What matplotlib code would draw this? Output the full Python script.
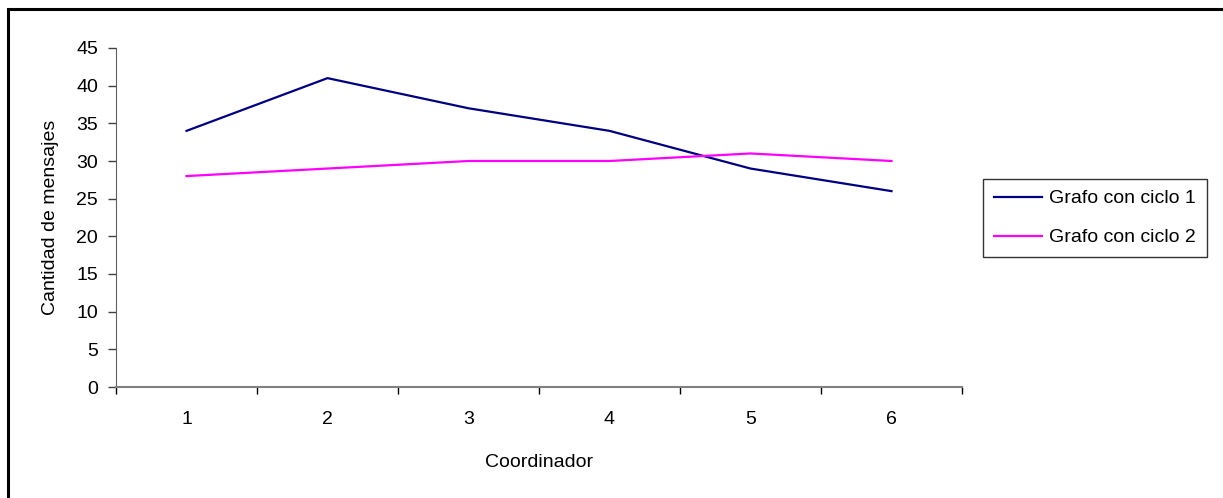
import matplotlib
matplotlib.use("Agg")
import matplotlib.pyplot as plt
import matplotlib.patches as mpatches

# =============================================================================
# DATA
# =============================================================================
coordinadores = [1, 2, 3, 4, 5, 6]
ciclo_1 = [34, 41, 37, 34, 29, 26]
ciclo_2 = [28, 29, 30, 30, 31, 30]
y_ticks = [0, 5, 10, 15, 20, 25, 30, 35, 40, 45]

# =============================================================================
# PLOT
# =============================================================================
plt.rcParams["font.family"] = ["Liberation Sans", "DejaVu Sans"]
FS = 14

fig = plt.figure(figsize=(12.23, 4.98), dpi=100, facecolor="white")
ax = fig.add_axes([116 / 1223, 1 - 387 / 498, 846 / 1223, 339 / 498])

ax.plot(coordinadores, ciclo_1, color="#000080", linewidth=1.6, label="Grafo con ciclo 1")
ax.plot(coordinadores, ciclo_2, color="#FF00FF", linewidth=1.6, label="Grafo con ciclo 2")

# --- Axes & labels ---
ax.set_xlim(0.5, len(coordinadores) + 0.5)
ax.set_ylim(0, 45)
ax.set_yticks(y_ticks)
ax.set_yticklabels([str(v) for v in y_ticks], fontsize=FS)

# category labels centred, tick marks between categories
ax.set_xticks(coordinadores)
ax.set_xticklabels([str(c) for c in coordinadores], fontsize=FS)
ax.set_xticks([c - 0.5 for c in coordinadores] + [coordinadores[-1] + 0.5], minor=True)
ax.tick_params(axis="x", which="major", length=0, pad=17)
ax.tick_params(axis="x", which="minor", length=5, width=1, color="#000000", direction="out")
ax.tick_params(axis="y", length=6, width=1, color="#404040", direction="out", pad=7)

ax.set_xlabel("Coordinador", fontsize=FS, labelpad=19)
ax.set_ylabel("Cantidad de mensajes", fontsize=FS, labelpad=12)

for spine in ["top", "right"]:
    ax.spines[spine].set_visible(False)
ax.spines["left"].set_color("#606060")
ax.spines["bottom"].set_color("#808080")
ax.spines["bottom"].set_linewidth(1.5)

leg = fig.legend(loc="upper left", bbox_to_anchor=(983 / 1223, 1 - 179 / 498),
                 borderaxespad=0, fontsize=FS, frameon=True, fancybox=False,
                 edgecolor="black", handlelength=2.5, handletextpad=0.35,
                 labelspacing=1.1, borderpad=0.55)
leg.get_frame().set_linewidth(1.0)
for h in leg.get_lines():
    h.set_linewidth(1.6)

# outer chart border (right/bottom edges fall outside the image)
fig.patches.append(mpatches.Rectangle((7.5 / 1223, -0.1), 1.2, 1.1 - 9 / 498,
                                      transform=fig.transFigure, fill=False,
                                      edgecolor="black", linewidth=2.2))

fig.savefig("out.png", dpi=100, facecolor="white")
